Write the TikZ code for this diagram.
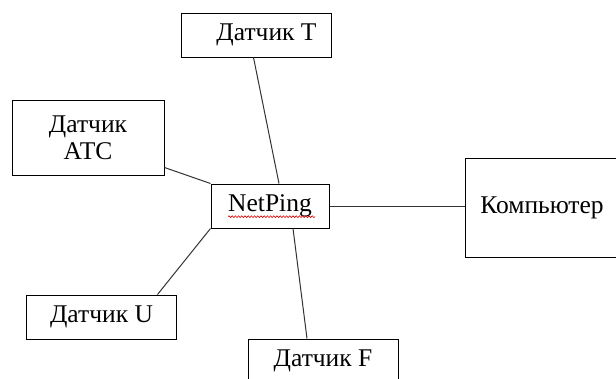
\documentclass[tikz,border=0pt]{standalone}
\usepackage{fontspec}
\setmainfont{Liberation Serif}
\usetikzlibrary{calc,decorations.pathmorphing}
\newcommand{\npFigMain}{\fontsize{25.5}{27}\selectfont}
\tikzset{
  %% every block of the scheme: a plain square box, one size for the sensors
  npbox/.style={
    sharp corners, draw=black, line width=1pt, fill=white,
    inner sep=2pt, align=center, font=\npFigMain,
    minimum width=150pt, minimum height=44pt},
  %% wiring between the controller and the blocks
  nplink/.style={draw=black!80, line width=1pt},
  %% the red spell-check squiggle under the controller name
  npspell/.style={draw=red!85!black, line width=0.6pt,
    decorate, decoration={snake, amplitude=0.9pt, segment length=3.2pt}},
}

\begin{document}
\begin{tikzpicture}[x=1pt, y=-1pt]
\useasboundingbox (0,0) rectangle (616,378);

%% --- controller (centre) ------------------------------------------
\node[npbox, minimum width=118pt] (np) at (270,206) {NetPing};
\draw[npspell] ($(np.base)+(-42,5)$) -- ($(np.base)+(45,5)$);

%% --- sensors around it --------------------------------------------
\node[npbox] (senT) at (256.5,35) {\hspace*{20pt}Датчик T};
\node[npbox, minimum width=152pt, minimum height=75pt] (senA) at (88,137.5)
  {Датчик\\АТС};
\node[npbox] (senU) at (101.5,317) {Датчик U};
\node[npbox] (senF) at (323,361) {Датчик F};

%% --- computer on the right, cut by the page edge --------------------
\node[npbox, minimum width=154pt, minimum height=99pt] (pc) at (542,207.5)
  {Компьютер};

%% --- links ----------------------------------------------------------
\draw[nplink] ($(senT.south)+(-3,0)$) -- ($(np.north)+(9,0)$);
\draw[nplink] ($(senA.south east)+(0,-8)$) -- (np.north west);
\draw[nplink] (np.east) -- (np.east -| pc.west);
\draw[nplink] ($(senU.north)+(56,0)$) -- (np.south west);
\draw[nplink] ($(np.south)+(23,0)$) -- ($(senF.north)+(-16,0)$);

\end{tikzpicture}
\end{document}
